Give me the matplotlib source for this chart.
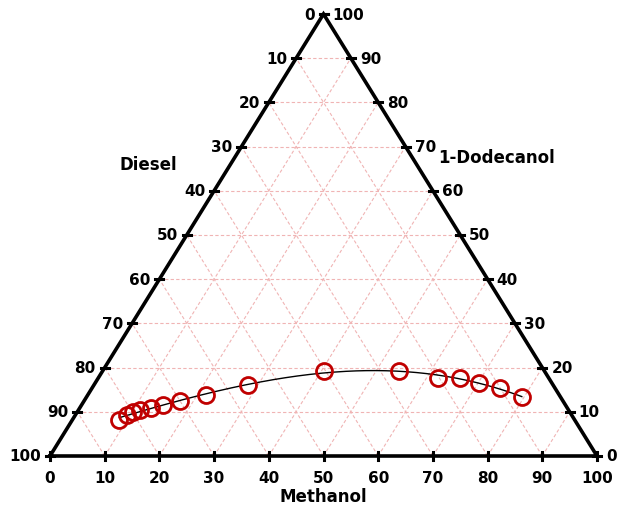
import numpy as np
import matplotlib
matplotlib.use("Agg")
import matplotlib.pyplot as plt

# Composition points (mass %)
methanol = [8.6, 9.4, 10.2, 11.3, 13.0, 14.9, 17.6, 21.6, 28.2, 40.5, 54.2, 62.0, 66.1, 70.2, 74.5, 79.6]
dodecanol = [8.2, 9.3, 9.9, 10.3, 10.8, 11.5, 12.5, 13.8, 16.1, 19.2, 19.2, 17.7, 17.7, 16.5, 15.4, 13.3]
diesel = [round(100 - a - b, 1) for a, b in zip(methanol, dodecanol)]

tick_values = list(range(0, 101, 10))
left_title = "Diesel"
right_title = "1-Dodecanol"
bottom_title = "Methanol"


def to_xy(m, d):
    """Ternary (methanol, dodecanol) in % -> cartesian in a unit-base triangle."""
    m = np.asarray(m, float) / 100.0
    d = np.asarray(d, float) / 100.0
    return m + d / 2.0, d


W, H = 618, 510
fig = plt.figure(figsize=(W / 100, H / 100), dpi=100)
x0, x1, ytop, ybot = 50, 597, 15, 457
ax = fig.add_axes([x0 / W, (H - ybot) / H, (x1 - x0) / W, (ybot - ytop) / H])
ax.set_xlim(0, 1)
ax.set_ylim(0, 1)
ax.axis("off")

grid_kw = dict(color="#f0b4b4", lw=0.8, ls=(0, (3, 2)), zorder=1, clip_on=False)
for k in range(10, 100, 10):
    # constant 1-Dodecanol
    xa, ya = to_xy([0, 100 - k], [k, k])
    ax.plot(xa, ya, **grid_kw)
    # constant Methanol
    xa, ya = to_xy([k, k], [0, 100 - k])
    ax.plot(xa, ya, **grid_kw)
    # constant Diesel
    xa, ya = to_xy([100 - k, 0], [0, 100 - k])
    ax.plot(xa, ya, **grid_kw)

# Triangle frame
tx, ty = to_xy([0, 100, 0, 0], [0, 0, 100, 0])
ax.plot(tx, ty, color="black", lw=2.6, solid_joinstyle="miter", zorder=3, clip_on=False)

# Tick marks and labels
px_x = 1.0 / (x1 - x0)
px_y = 1.0 / (ybot - ytop)
fs = 11
for v in tick_values:
    # bottom: Methanol
    bx, by = to_xy(v, 0)
    ax.plot([bx, bx], [by - 4 * px_y, by + 4 * px_y], color="black", lw=2.2, zorder=4, clip_on=False)
    ax.text(bx, by - 22 * px_y, str(v), ha="center", va="center", fontsize=fs,
            fontweight="bold", family="DejaVu Sans")
    # left: Diesel (0 at apex, 100 at bottom-left)
    lx, ly = to_xy(0, 100 - v)
    ax.plot([lx - 4 * px_x, lx + 4 * px_x], [ly, ly], color="black", lw=2.2, zorder=4, clip_on=False)
    ax.text(lx - 9 * px_x, ly, str(v), ha="right", va="center", fontsize=fs,
            fontweight="bold", family="DejaVu Sans")
    # right: 1-Dodecanol (0 at bottom-right, 100 at apex)
    rx, ry = to_xy(100 - v, v)
    ax.plot([rx - 4 * px_x, rx + 4 * px_x], [ry, ry], color="black", lw=2.2, zorder=4, clip_on=False)
    ax.text(rx + 9 * px_x, ry, str(v), ha="left", va="center", fontsize=fs,
            fontweight="bold", family="DejaVu Sans")

ax.text((148 - x0) * px_x, (ybot - 165) * px_y, left_title, ha="center", va="center",
        fontsize=12, fontweight="bold", family="DejaVu Sans")
ax.text((497 - x0) * px_x, (ybot - 158) * px_y, right_title, ha="center", va="center",
        fontsize=12, fontweight="bold", family="DejaVu Sans")
ax.text(0.5, (ybot - 497) * px_y, bottom_title, ha="center", va="center",
        fontsize=12, fontweight="bold", family="DejaVu Sans")

# Binodal fit curve through the measured points
px, py = to_xy(methanol, dodecanol)
coef = np.polyfit(px, py, 3)
xs = np.linspace(px.min(), px.max(), 200)
ax.plot(xs, np.polyval(coef, xs), color="black", lw=1.0, zorder=5, clip_on=False)

ax.plot(px, py, ls="none", marker="o", ms=11.5, mfc="none", mec="#c00000", mew=2.0,
        zorder=6, clip_on=False)

fig.savefig("out.png", dpi=100)
